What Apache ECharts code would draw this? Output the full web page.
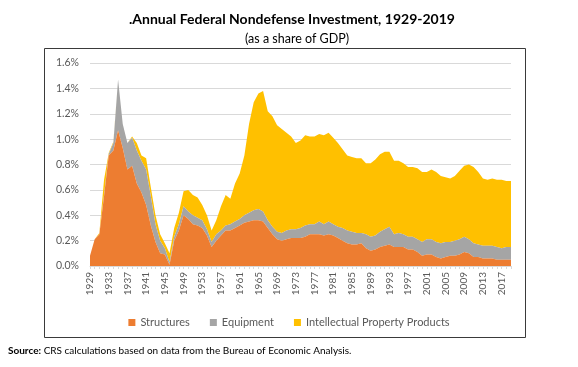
<!DOCTYPE html>
<html><head><meta charset="utf-8">
<script src="https://cdn.jsdelivr.net/npm/echarts@6/dist/echarts.min.js"></script>
<style>html,body{margin:0;padding:0;background:#fff}#c{width:578px;height:367px}</style>
</head><body><div id="c"></div>
<script>
var years = [];
for (var y = 1929; y <= 2019; y++) years.push(String(y));

var structures = [
0.08,0.21,0.25,0.55,0.87,0.91,1.07,0.93,0.76,0.79,
0.65,0.58,0.48,0.32,0.19,0.10,0.09,0.01,0.20,0.28,
0.40,0.37,0.33,0.32,0.30,0.24,0.15,0.20,0.24,0.28,
0.28,0.30,0.32,0.34,0.35,0.36,0.36,0.35,0.30,0.25,
0.21,0.20,0.21,0.22,0.22,0.22,0.23,0.25,0.25,0.25,
0.24,0.25,0.24,0.22,0.20,0.18,0.17,0.17,0.18,0.14,
0.12,0.13,0.15,0.16,0.17,0.15,0.15,0.15,0.13,0.13,
0.11,0.08,0.09,0.09,0.07,0.06,0.07,0.08,0.08,0.09,
0.11,0.10,0.07,0.07,0.06,0.06,0.06,0.05,0.05,0.05,
0.05];
var equipment = [
0.00,0.00,0.00,0.01,0.01,0.06,0.40,0.19,0.21,0.22,
0.26,0.25,0.28,0.23,0.14,0.10,0.05,0.02,0.03,0.05,
0.07,0.06,0.07,0.06,0.06,0.05,0.04,0.05,0.04,0.04,
0.05,0.05,0.05,0.06,0.07,0.08,0.09,0.08,0.06,0.06,
0.06,0.06,0.07,0.07,0.07,0.08,0.09,0.08,0.08,0.10,
0.09,0.10,0.09,0.09,0.10,0.10,0.10,0.09,0.08,0.11,
0.11,0.11,0.12,0.13,0.14,0.10,0.11,0.10,0.10,0.10,
0.10,0.11,0.12,0.12,0.12,0.12,0.12,0.11,0.12,0.12,
0.12,0.11,0.11,0.10,0.10,0.10,0.10,0.10,0.09,0.10,
0.10];
var ipp = [
0.00,0.00,0.01,0.12,0.01,0.01,0.00,0.00,0.00,0.01,
0.06,0.04,0.09,0.07,0.07,0.05,0.04,0.07,0.07,0.09,
0.12,0.17,0.16,0.16,0.12,0.11,0.09,0.11,0.19,0.24,
0.20,0.30,0.36,0.47,0.70,0.85,0.91,0.95,0.86,0.87,
0.84,0.82,0.77,0.73,0.68,0.69,0.71,0.69,0.69,0.69,
0.70,0.70,0.68,0.66,0.62,0.59,0.59,0.59,0.59,0.56,
0.58,0.60,0.61,0.61,0.59,0.58,0.57,0.56,0.55,0.55,
0.56,0.55,0.53,0.55,0.55,0.53,0.51,0.50,0.51,0.54,
0.56,0.59,0.60,0.57,0.53,0.52,0.53,0.53,0.54,0.52,
0.52];
var yTicks = [0, 0.2, 0.4, 0.6, 0.8, 1.0, 1.2, 1.4, 1.6];
var seriesNames = ['Structures', 'Equipment', 'Intellectual Property Products'];
var colors = ['#ED7D31', '#A5A5A5', '#FFC000'];

var chart = echarts.init(document.getElementById('c'), null, {renderer: 'canvas'});
var font = 'Lato, "Open Sans", sans-serif';
function mk(name, data, i) {
  return {
    name: name, type: 'line', stack: 'total', data: data,
    symbol: 'none', smooth: false,
    lineStyle: {width: 0}, areaStyle: {color: colors[i], opacity: 1},
    itemStyle: {color: colors[i]}, z: 3 - i
  };
}
chart.setOption({
  animation: false,
  textStyle: {fontFamily: font},
  title: [{
    text: '.Annual Federal Nondefense Investment, 1929-2019',
    left: 287, top: 7, textAlign: 'center',
    textStyle: {fontSize: 14, fontWeight: 'bold', color: '#000', fontFamily: font}
  }, {
    text: '(as a share of GDP)',
    left: 292, top: 27, textAlign: 'center',
    textStyle: {fontSize: 12.5, fontWeight: 'normal', color: '#000', fontFamily: font}
  }],
  graphic: [{
    type: 'rect', shape: {x: 44.5, y: 48.5, width: 481, height: 289},
    style: {fill: 'none', stroke: '#3a3a3a', lineWidth: 1}, z: -1
  }, {
    type: 'text', left: 8, top: 346,
    style: {
      text: '{b|Source:} CRS calculations based on data from the Bureau of Economic Analysis.',
      rich: {b: {fontWeight: 'bold', fontSize: 10, fontFamily: font, fill: '#000'}},
      fontSize: 10, fontFamily: font, fill: '#000'
    }
  }],
  legend: {
    data: seriesNames, left: 'center', top: 312,
    itemWidth: 7, itemHeight: 7, itemGap: 20, icon: 'rect',
    textStyle: {fontSize: 11, color: '#595959', fontFamily: font}
  },
  grid: {left: 90, right: 67, top: 63, bottom: 101, containLabel: false},
  xAxis: {
    type: 'category', data: years, boundaryGap: false,
    axisLine: {lineStyle: {color: '#D9D9D9'}},
    axisTick: {show: true, interval: 0, length: 3, lineStyle: {color: '#D9D9D9'}},
    axisLabel: {rotate: 90, interval: 3, fontSize: 10, color: '#595959', margin: 6, fontFamily: font}
  },
  yAxis: {
    type: 'value', min: yTicks[0], max: yTicks[yTicks.length - 1], interval: 0.2,
    axisLine: {show: false}, axisTick: {show: false},
    splitLine: {lineStyle: {color: '#D9D9D9'}},
    axisLabel: {formatter: function (v) { return v.toFixed(1) + '%'; }, fontSize: 10.5, color: '#595959', margin: 11, fontFamily: font}
  },
  series: [mk(seriesNames[0], structures, 0), mk(seriesNames[1], equipment, 1), mk(seriesNames[2], ipp, 2)]
});
</script></body></html>
